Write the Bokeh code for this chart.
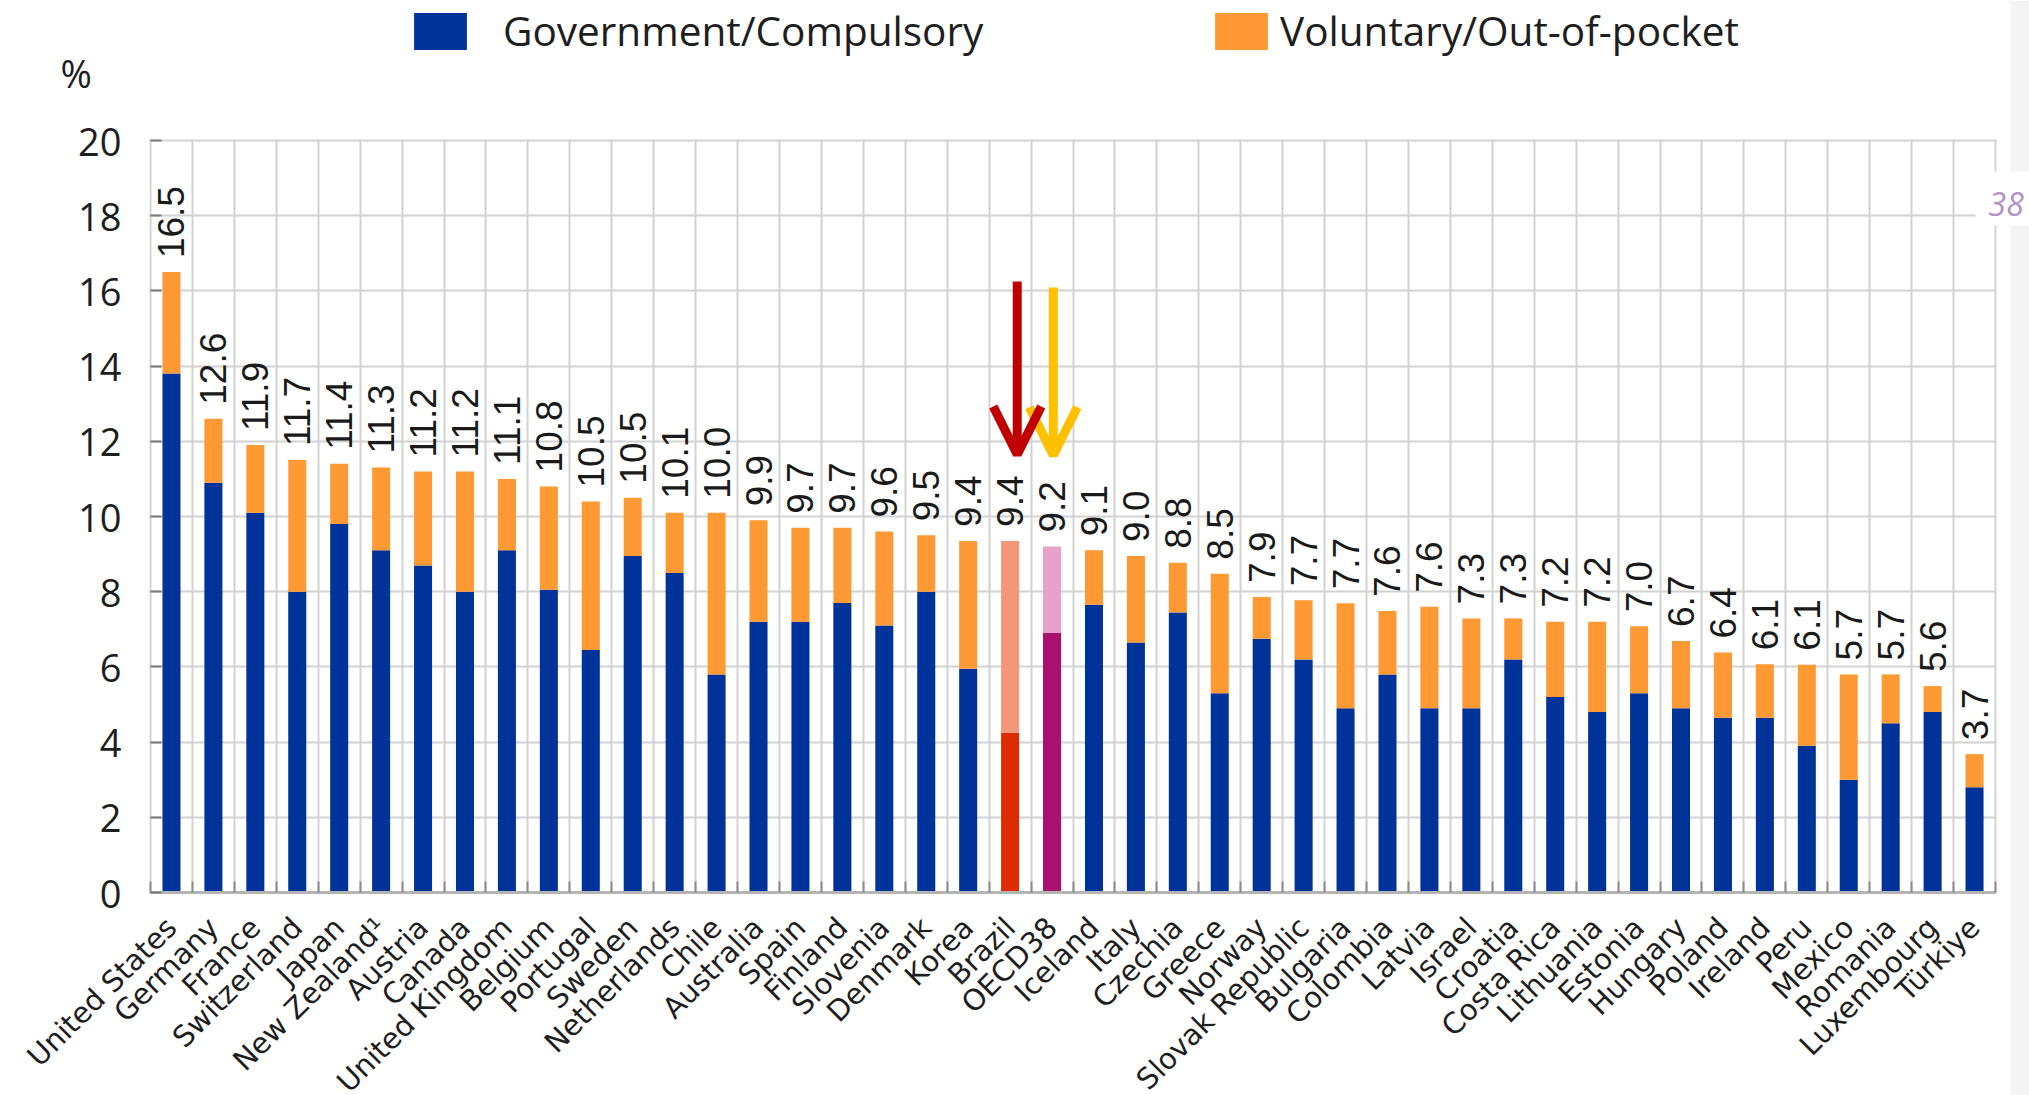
import math
from bokeh.plotting import figure
from bokeh.models import (Range1d, FixedTicker, Legend, LegendItem, Label, Arrow,
                          OpenHead, BoxAnnotation, ColumnDataSource)
from bokeh.core.properties import value
from bokeh.embed import file_html
from bokeh.resources import INLINE

# ---------------- data ----------------
categories = ["United States", "Germany", "France", "Switzerland", "Japan", "New Zealand¹",
              "Austria", "Canada", "United Kingdom", "Belgium", "Portugal", "Sweden",
              "Netherlands", "Chile", "Australia", "Spain", "Finland", "Slovenia", "Denmark",
              "Korea", "Brazil", "OECD38", "Iceland", "Italy", "Czechia", "Greece", "Norway",
              "Slovak Republic", "Bulgaria", "Colombia", "Latvia", "Israel", "Croatia",
              "Costa Rica", "Lithuania", "Estonia", "Hungary", "Poland", "Ireland", "Peru",
              "Mexico", "Romania", "Luxembourg", "Türkiye"]

government = [13.8, 10.9, 10.1, 8.0, 9.8, 9.1, 8.7, 8.0, 9.1, 8.05, 6.45, 8.95,
              8.5, 5.8, 7.2, 7.2, 7.7, 7.1, 8.0, 5.95, 4.25, 6.9, 7.65, 6.65, 7.45,
              5.3, 6.75, 6.2, 4.9, 5.8, 4.9, 4.9, 6.2, 5.2, 4.8, 5.3, 4.9, 4.65, 4.65,
              3.9, 3.0, 4.5, 4.8, 2.8]

voluntary = [2.7, 1.7, 1.8, 3.5, 1.6, 2.2, 2.5, 3.2, 1.9, 2.75, 3.95, 1.55,
             1.6, 4.3, 2.7, 2.5, 2.0, 2.5, 1.5, 3.4, 5.1, 2.3, 1.45, 2.3, 1.32,
             3.18, 1.11, 1.57, 2.79, 1.69, 2.7, 2.39, 1.09, 2.0, 2.4, 1.78, 1.79,
             1.73, 1.42, 2.16, 2.8, 1.3, 0.69, 0.88]

total_labels = ["16.5", "12.6", "11.9", "11.7", "11.4", "11.3", "11.2", "11.2", "11.1",
                "10.8", "10.5", "10.5", "10.1", "10.0", "9.9", "9.7", "9.7", "9.6", "9.5",
                "9.4", "9.4", "9.2", "9.1", "9.0", "8.8", "8.5", "7.9", "7.7", "7.7", "7.6",
                "7.6", "7.3", "7.3", "7.2", "7.2", "7.0", "6.7", "6.4", "6.1", "6.1", "5.7",
                "5.7", "5.6", "3.7"]

y_ticks = [0, 2, 4, 6, 8, 10, 12, 14, 16, 18, 20]
y_max = 20
unit_label = "%"
series_names = ["Government/Compulsory", "Voluntary/Out-of-pocket"]

# ---------------- styles / layout ----------------
GOV = "#003399"
VOL = "#FF9933"
special_gov = {"Brazil": "#DD2D00", "OECD38": "#A8126E"}
special_vol = {"Brazil": "#F3967A", "OECD38": "#E8A2CA"}
GRID = "#d2d2d2"
STRIP = "#f4f4f4"
TXT = "#1e1e1e"

W, H = 2029, 1095
AXIS_X_PX = 150                  # page x of the value axis
PLOT_TOP_PX, AXIS_PX = 140, 892  # page y of the value-axis maximum and of zero
CAT_W = 1845 / 44.0              # pixel width of one category slot
n = len(categories)
px_per_unit = (AXIS_PX - PLOT_TOP_PX) / y_max
x_start = -AXIS_X_PX / CAT_W
x_end = (W - AXIS_X_PX) / CAT_W
y_start = -(H - AXIS_PX) / px_per_unit
y_end = AXIS_PX / px_per_unit


def px_to_x(px):
    return (px - AXIS_X_PX) / CAT_W


def py_to_y(py):
    return (AXIS_PX - py) / px_per_unit


xs = [i + 0.5 for i in range(n)]
tops = [g + v for g, v in zip(government, voluntary)]

src = ColumnDataSource(dict(
    x=xs, gov=government, top=tops, lab=total_labels,
    gcol=[special_gov.get(c, GOV) for c in categories],
    vcol=[special_vol.get(c, VOL) for c in categories],
))

p = figure(width=W, height=H,
           x_range=Range1d(x_start, x_end), y_range=Range1d(y_start, y_end),
           output_backend="svg", toolbar_location=None, min_border=0,
           outline_line_color=None, background_fill_color="white",
           border_fill_color="white")

p.xgrid.ticker = FixedTicker(ticks=list(range(n + 1)))
p.ygrid.ticker = FixedTicker(ticks=y_ticks)
for g in (p.xgrid, p.ygrid):
    g.grid_line_color = GRID
    g.grid_line_width = 2

# keep the grid inside the chart box; light page strip at the right edge
for box in (dict(bottom=y_max + 0.03), dict(top=-0.04), dict(right=-0.03),
            dict(left=n + 0.03)):
    p.add_layout(BoxAnnotation(fill_color="white", fill_alpha=1, line_alpha=0,
                               level="underlay", **box))
p.add_layout(BoxAnnotation(left=px_to_x(2010), fill_color=STRIP, fill_alpha=1,
                           line_alpha=0, level="underlay"))

bw = 0.43
r_gov = p.vbar(x="x", bottom=0, top="gov", width=bw, source=src,
               fill_color="gcol", line_color=None)
r_vol = p.vbar(x="x", bottom="gov", top="top", width=bw, source=src,
               fill_color="vcol", line_color=None)

p.text(x="x", y="top", text="lab", source=src, angle=math.pi / 2,
       text_align="left", text_baseline="middle", y_offset=-14,
       text_font=value("Liberation Sans"), text_font_size="37px", text_color="#1a1a1a")

# category axis, pinned at zero
xa = p.xaxis[0]
xa.fixed_location = 0
xa.bounds = (0, n)
xa.ticker = FixedTicker(ticks=xs, minor_ticks=list(range(n + 1)))
xa.major_label_overrides = {x: c for x, c in zip(xs, categories)}
xa.major_tick_in = 0
xa.major_tick_out = 0
xa.minor_tick_in = 11
xa.minor_tick_out = 0
xa.minor_tick_line_color = "#8c8c8c"
xa.minor_tick_line_width = 2
xa.axis_line_color = "#b4b4b4"
xa.axis_line_width = 3
xa.major_label_orientation = 0.785
xa.major_label_standoff = 30
xa.major_label_text_font = "DejaVu Sans"
xa.major_label_text_font_size = "29px"
xa.major_label_text_color = TXT

# value axis pinned at the first slot edge (unit shown as the top label)
unit_y = py_to_y(72)
ya = p.yaxis[0]
ya.fixed_location = 0
ya.ticker = FixedTicker(ticks=y_ticks + [unit_y])
ya.major_label_overrides = {unit_y: unit_label + "\u00a0\u00a0\u00a0"}
ya.major_tick_in = 11
ya.major_tick_out = 0
ya.minor_tick_line_color = None
ya.major_tick_line_color = "#7a7a7a"
ya.major_tick_line_width = 2
ya.axis_line_color = None
ya.major_label_standoff = 29
ya.major_label_text_font = "Open Sans"
ya.major_label_text_font_size = "38px"
ya.major_label_text_color = TXT
# hide the tick mark that belongs to the unit label
p.add_layout(BoxAnnotation(left=-0.02, right=0.5, bottom=y_max + 0.5,
                           fill_color="white", fill_alpha=1, line_alpha=0))

# highlight arrows
yellow_x, yellow_top, yellow_tip = 21.53, 16.09, 11.63
red_x, red_top, red_tip = 20.67, 16.25, 11.65
for ax_, atop, atip, col in ((yellow_x, yellow_top, yellow_tip, "#FFC000"),
                             (red_x, red_top, red_tip, "#C00000")):
    p.add_layout(Arrow(x_start=ax_, y_start=atop, x_end=ax_, y_end=atip,
                       line_color=col, line_width=9,
                       end=OpenHead(size=48, line_color=col, line_width=9)))

# legend above the chart box
leg_common = dict(orientation="horizontal", glyph_width=66, glyph_height=46,
                  padding=0, margin=0, border_line_alpha=0, background_fill_alpha=0,
                  label_text_font="Open Sans", label_text_font_size="40.5px",
                  label_text_color=TXT)
leg_bottom = H - 58
p.add_layout(Legend(items=[LegendItem(label=series_names[0], renderers=[r_gov], index=0)],
                    location=(407, leg_bottom), label_standoff=30, **leg_common))
p.add_layout(Legend(items=[LegendItem(label=series_names[1], renderers=[r_vol], index=0)],
                    location=(1208, leg_bottom), label_standoff=6, **leg_common))

# page-number artefact at the right edge
p.add_layout(BoxAnnotation(left=px_to_x(1975), bottom=py_to_y(225), top=py_to_y(171),
                           fill_color="white", fill_alpha=1, line_alpha=0))
p.add_layout(Label(x=px_to_x(1988), y=py_to_y(203), text="38", text_align="left",
                   text_baseline="middle", text_font="Open Sans", text_font_style="italic",
                   text_font_size="32px", text_color="#B491C2"))

open("out.html", "w").write(file_html(p, INLINE))
